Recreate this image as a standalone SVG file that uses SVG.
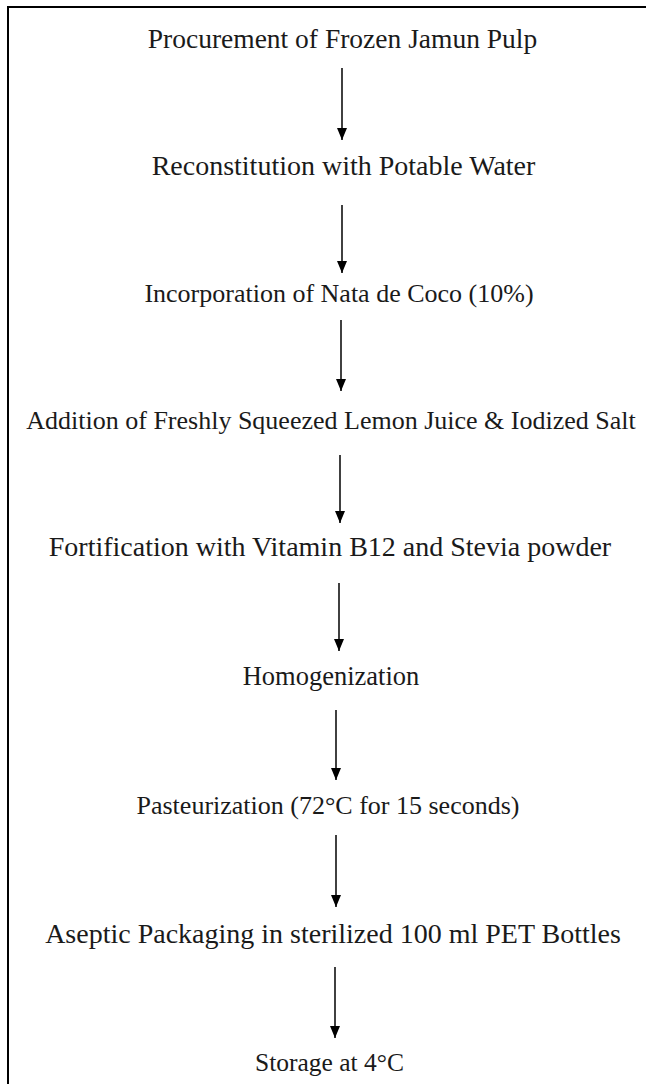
<svg xmlns="http://www.w3.org/2000/svg" width="646" height="1084" viewBox="0 0 646 1084">
<style>
.t{font-family:"Liberation Serif","Times New Roman","DejaVu Serif",serif;font-size:26px;fill:#1a1a1a;text-anchor:middle}
.c line{stroke:#111;stroke-width:1.6}
.b{stroke:#000;stroke-width:2;fill:none}
</style>
<defs>
<marker id="ah" viewBox="0 0 12 10" refX="12" refY="5" markerWidth="12" markerHeight="10" markerUnits="userSpaceOnUse" orient="auto">
<path d="M0,0 L12,5 L0,10 Z" fill="#000"/>
</marker>
</defs>
<rect width="646" height="1084" fill="#fff"/>
<path class="b" d="M646,7 H8 V1084"/>
<g id="n1"><text class="t" x="342.5" y="48" style="font-size:27.5px">Procurement of Frozen Jamun Pulp</text></g>
<g id="n2"><text class="t" x="343.5" y="175" style="font-size:28px">Reconstitution with Potable Water</text></g>
<g id="n3"><text class="t" x="339" y="302">Incorporation of Nata de Coco (10%)</text></g>
<g id="n4"><text class="t" x="331" y="429">Addition of Freshly Squeezed Lemon Juice &amp; Iodized Salt</text></g>
<g id="n5"><text class="t" x="330" y="556" style="font-size:28px">Fortification with Vitamin B12 and Stevia powder</text></g>
<g id="n6"><text class="t" x="331" y="685" style="font-size:26.5px">Homogenization</text></g>
<g id="n7"><text class="t" x="328" y="814">Pasteurization (72°C for 15 seconds)</text></g>
<g id="n8"><text class="t" x="333" y="943" style="font-size:28px">Aseptic Packaging in sterilized 100 ml PET Bottles</text></g>
<g id="n9"><text class="t" x="329.5" y="1071" style="font-size:25.5px">Storage at 4°C</text></g>
<g id="connectors" class="c">
<line x1="342" y1="68" x2="342" y2="140" marker-end="url(#ah)"/>
<line x1="342" y1="205" x2="342" y2="273" marker-end="url(#ah)"/>
<line x1="341" y1="320" x2="341" y2="391" marker-end="url(#ah)"/>
<line x1="340" y1="455" x2="340" y2="523" marker-end="url(#ah)"/>
<line x1="339" y1="583" x2="339" y2="651" marker-end="url(#ah)"/>
<line x1="336" y1="710" x2="336" y2="780" marker-end="url(#ah)"/>
<line x1="336" y1="835" x2="336" y2="907" marker-end="url(#ah)"/>
<line x1="335" y1="967" x2="335" y2="1038" marker-end="url(#ah)"/>
</g>
</svg>
